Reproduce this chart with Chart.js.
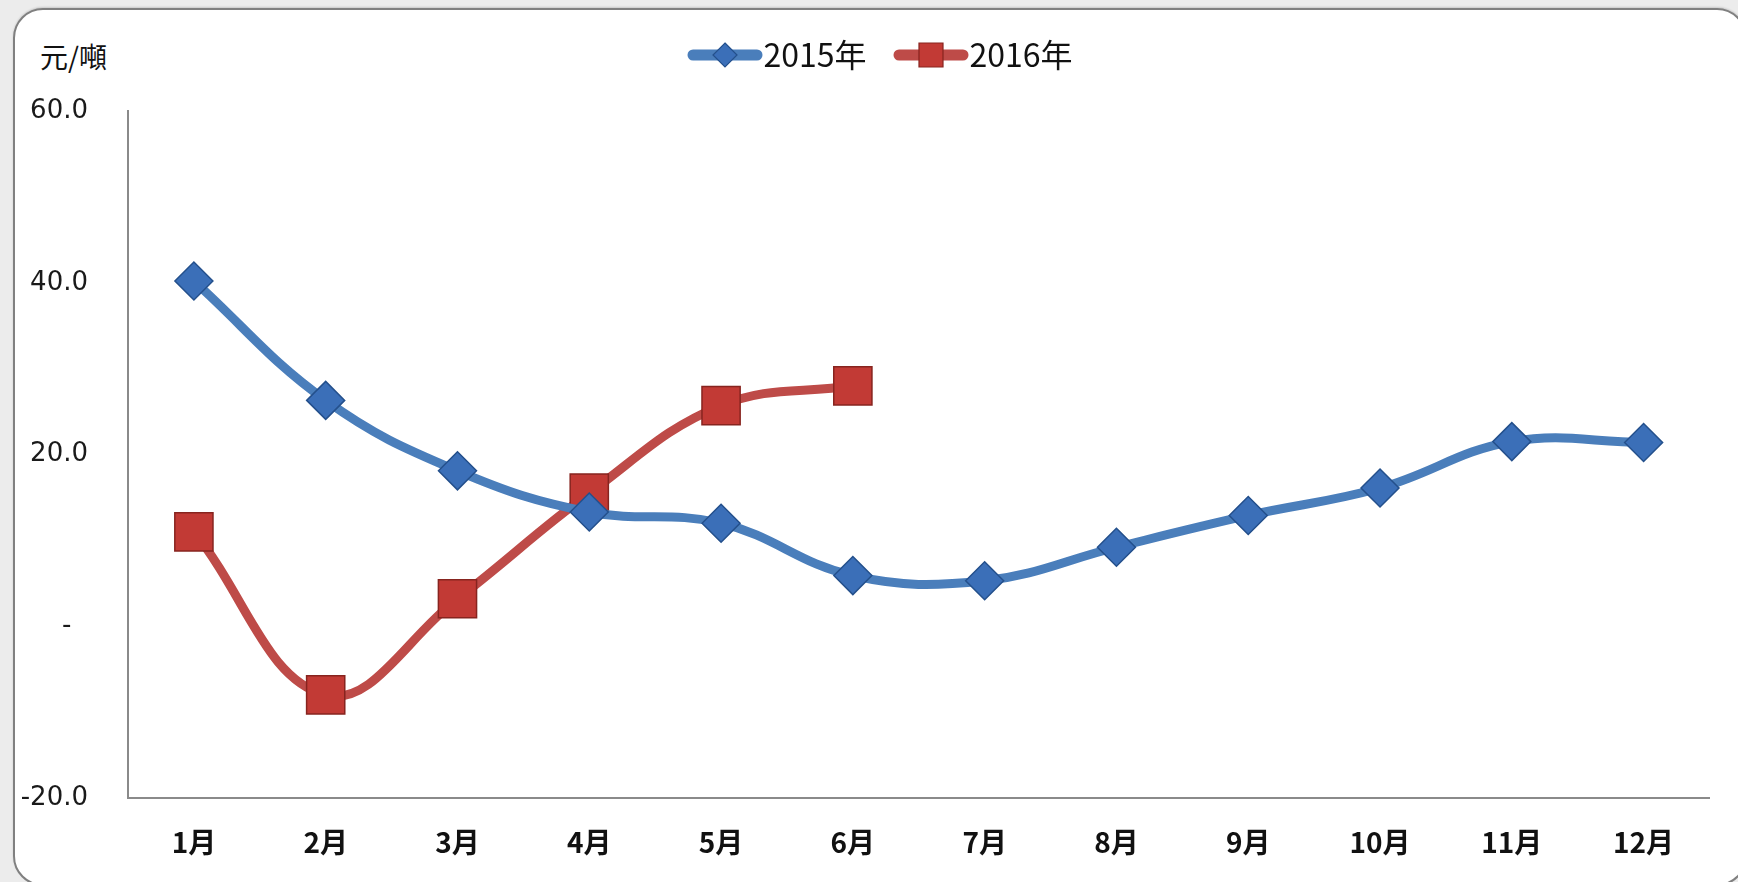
<!DOCTYPE html>
<html>
<head>
<meta charset="utf-8">
<script src="https://cdn.jsdelivr.net/npm/chart.js@4/dist/chart.umd.min.js"></script>
<style>
    html, body { margin: 0; padding: 0; }
    body { width: 1738px; height: 882px; background: #ececec; position: relative; overflow: hidden; }
    .frame {
        position: absolute; left: 13px; top: 8px; width: 1730px; height: 874px;
        background: #fff; border: 2px solid #808080; border-radius: 30px;
        box-shadow: 0 -1px 2px rgba(0,0,0,0.15);
    }
    .unit {
        position: absolute; left: 40px; top: 36px;
        font: 28px "Noto Sans CJK TC", sans-serif; color: #111;
    }
    canvas { position: absolute; left: 0; top: 0; }
</style>
</head>
<body>
<div class="frame"></div>
<div class="unit">元/噸</div>
<canvas id="priceChart" width="1738" height="882"></canvas>
<script>
// data
const months = ['1月', '2月', '3月', '4月', '5月', '6月', '7月', '8月', '9月', '10月', '11月', '12月'];
const series2015 = [40.2, 26.3, 18.1, 13.3, 12.0, 5.9, 5.3, 9.2, 12.9, 16.1, 21.5, 21.4];
const series2016 = [11.0, -8.0, 3.2, 15.5, 25.7, 28.0];
const seriesNames = ['2015年', '2016年'];
const yTicks = [-20, 0, 20, 40, 60];

const BLUE = '#4a7ebb', BLUE_MARK = '#3b6fb8', BLUE_EDGE = '#24508c';
const RED = '#be4b48', RED_MARK = '#c23a35', RED_EDGE = '#87241f';

// legend symbol: thick line with the marker in the middle,
// shifted right inside the canvas so it sits against the text
function legendIcon(line, fill, edge, shape) {
    const c = document.createElement('canvas');
    c.width = 106; c.height = 30;
    const g = c.getContext('2d');
    const x0 = 23;
    g.strokeStyle = line; g.lineWidth = 11; g.lineCap = 'round';
    g.beginPath(); g.moveTo(x0 + 6, 15); g.lineTo(x0 + 70, 15); g.stroke();
    g.fillStyle = fill; g.strokeStyle = edge; g.lineWidth = 1.2;
    g.beginPath();
    if (shape === 'diamond') {
        g.moveTo(x0 + 38, 3); g.lineTo(x0 + 50, 15); g.lineTo(x0 + 38, 27); g.lineTo(x0 + 26, 15);
    } else {
        g.rect(x0 + 26, 3, 24, 24);
    }
    g.closePath(); g.fill(); g.stroke();
    return c;
}
const legendIcons = [
    legendIcon(BLUE, BLUE_MARK, BLUE_EDGE, 'diamond'),
    legendIcon(RED, RED_MARK, RED_EDGE, 'square')
];

// the legend in the reference sits a little right of the canvas centre
const legendShift = {
    id: 'legendShift',
    afterLayout(chart) {
        chart.legend.left += 18;
        chart.legend.right += 18;
    }
};

const ctx = document.getElementById('priceChart');
new Chart(ctx, {
    type: 'line',
    data: {
        labels: months,
        datasets: [{
            label: seriesNames[0],
            data: series2015,
            borderColor: BLUE,
            borderWidth: 9,
            tension: 0.4,
            pointStyle: 'rectRot',
            pointRadius: 19,
            pointBackgroundColor: BLUE_MARK,
            pointBorderColor: BLUE_EDGE,
            pointBorderWidth: 1.5
        }, {
            label: seriesNames[1],
            data: series2016,
            borderColor: RED,
            borderWidth: 9,
            tension: 0.4,
            pointStyle: 'rect',
            pointRadius: 27,
            pointBackgroundColor: RED_MARK,
            pointBorderColor: RED_EDGE,
            pointBorderWidth: 1.5
        }]
    },
    options: {
        responsive: false,
        animation: false,
        events: [],
        layout: { padding: { top: 13, left: 0, right: 15, bottom: 24 } },
        plugins: {
            tooltip: { enabled: false },
            legend: {
                position: 'top',
                labels: {
                    usePointStyle: true,
                    pointStyleWidth: 61,
                    padding: 26,
                    color: '#111',
                    font: { family: '"Noto Sans CJK TC", sans-serif', size: 32 },
                    generateLabels: (chart) => Chart.defaults.plugins.legend.labels.generateLabels(chart)
                        .map((item, i) => ({ ...item, pointStyle: legendIcons[i] }))
                }
            },
            // empty spacer between legend and plot
            subtitle: {
                display: true,
                text: '',
                weight: 0,
                padding: 0,
                font: { size: 30, lineHeight: 1 }
            }
        },
        scales: {
            x: {
                offset: true,
                afterFit: (scale) => {
                    scale.height = 60;
                    scale.paddingLeft = 0;
                    scale.paddingRight = 0;
                },
                grid: { display: false, drawTicks: false },
                border: { display: true, color: '#8a8a8a', width: 2 },
                ticks: {
                    padding: 28,
                    color: '#111',
                    font: { family: '"Noto Sans CJK TC", sans-serif', size: 28, weight: 'bold' }
                }
            },
            y: {
                min: -20,
                max: 60,
                afterBuildTicks: (scale) => { scale.ticks = yTicks.map(v => ({ value: v })); },
                afterFit: (scale) => { scale.width = 128; },
                grid: { display: false, drawTicks: false },
                border: { display: true, color: '#8a8a8a', width: 2 },
                ticks: {
                    padding: 40,
                    color: '#1a1a1a',
                    font: { family: '"DejaVu Sans", sans-serif', size: 26 },
                    callback: (v) => v === 0 ? '-  ' : v.toFixed(1)
                }
            }
        }
    },
    plugins: [legendShift]
});
</script>
</body>
</html>
